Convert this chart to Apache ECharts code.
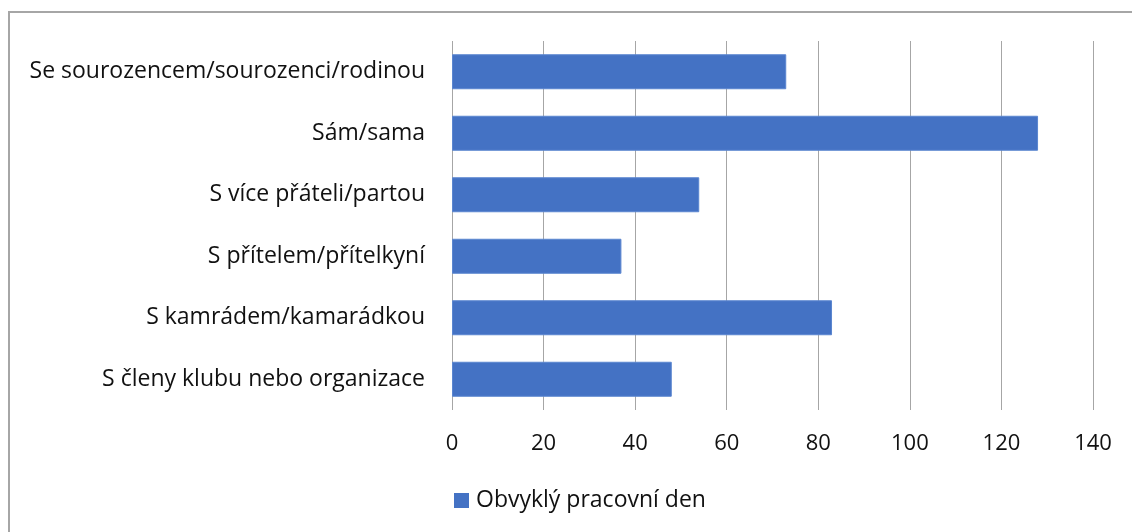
<!DOCTYPE html>
<html><head><meta charset="utf-8">
<script src="https://cdn.jsdelivr.net/npm/echarts@6/dist/echarts.min.js"></script>
<style>
html,body{margin:0;padding:0;background:#fff;width:1132px;height:532px;overflow:hidden}
#frame{position:absolute;left:8px;top:11px;width:1200px;height:600px;border-left:2px solid #a6a6a6;border-top:2px solid #a6a6a6}
#c{position:absolute;left:0;top:0;width:1132px;height:532px}
</style></head>
<body><div id="frame"></div><div id="c"></div>
<script>
const categories = ["S členy klubu nebo organizace","S kamrádem/kamarádkou","S přítelem/přítelkyní","S více přáteli/partou","Sám/sama","Se sourozencem/sourozenci/rodinou"];
const values = [48, 83, 37, 54, 128, 73];
const seriesName = "Obvyklý pracovní den";
const xTicks = [0, 20, 40, 60, 80, 100, 120, 140];

const font = "Open Sans";
const chart = echarts.init(document.getElementById('c'), null, {renderer:'canvas'});
chart.setOption({
  animation:false,
  backgroundColor:'transparent',
  grid:{left:452, right:39, top:41, bottom:122, containLabel:false},
  xAxis:{type:'value', min:xTicks[0], max:xTicks[xTicks.length-1], interval:20,
    axisLine:{show:false}, axisTick:{show:false},
    splitLine:{show:true, lineStyle:{color:'#a6a6a6', width:1}},
    axisLabel:{color:'#111', fontFamily:font, fontSize:22, margin:23}},
  yAxis:{type:'category', data:categories,
    axisLine:{show:false}, axisTick:{show:false},
    axisLabel:{color:'#111', fontFamily:font, fontSize:23, margin:27}},
  legend:{show:true, left:454, top:489, padding:0, itemWidth:15, itemHeight:15, itemGap:10,
    icon:'rect', itemStyle:{borderWidth:0, color:'#4472c4'},
    textStyle:{color:'#111', fontFamily:font, fontSize:23, padding:[0,0,0,2]}},
  series:[{type:'bar', name:seriesName, data:values, barWidth:35,
    itemStyle:{color:'#4472c4', borderColor:'#5b86d0', borderWidth:1}}]
});
</script></body></html>
